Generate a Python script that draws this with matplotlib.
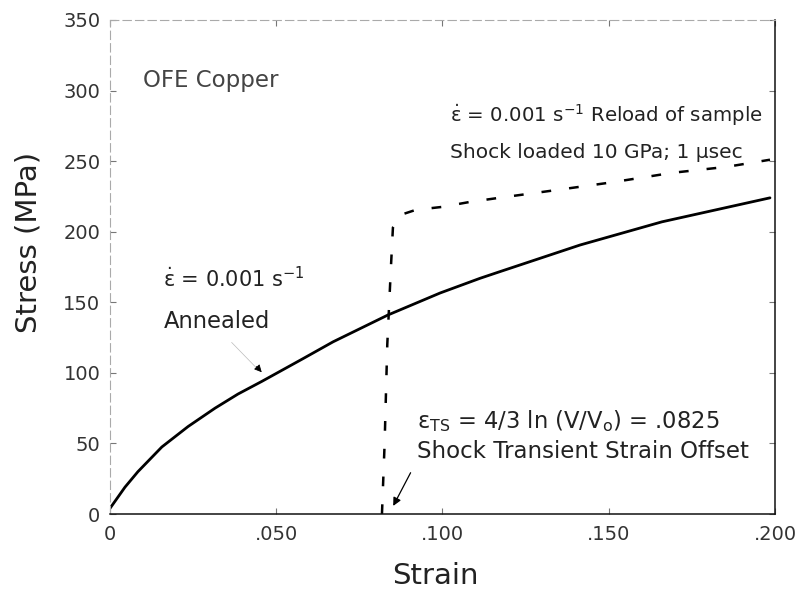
import matplotlib.pyplot as plt

plt.rcParams["font.family"] = ["DejaVu Sans"]
plt.rcParams["mathtext.fontset"] = "dejavusans"
plt.rcParams["lines.scale_dashes"] = False

# annealed OFE copper, strain rate 0.001 /s
annealed_strain = [0.0, 0.0045, 0.0084, 0.0156, 0.0235, 0.0316, 0.0385, 0.0457, 0.0580,
                   0.0671, 0.0836, 0.0993, 0.1113, 0.1170, 0.1414, 0.1660, 0.1985]
annealed_stress = [4, 19, 30, 47.5, 62, 75, 85, 94, 110,
                   122, 141, 156.6, 167, 171.5, 190.6, 207, 224]

# reload after shock loading (10 GPa, 1 usec), offset by transient strain
shocked_strain = [0.0818, 0.0826, 0.0834, 0.0845, 0.0851, 0.0875, 0.092, 0.100, 0.108,
                  0.117, 0.1345, 0.151, 0.169, 0.1856, 0.1985]
shocked_stress = [0, 50, 120, 175, 203, 212, 215.5, 217.6, 221,
                  224, 229.6, 235, 241.7, 246, 251]

x_ticks = [0, 0.05, 0.10, 0.15, 0.20]
x_tick_labels = ["0", ".050", ".100", ".150", ".200"]
y_ticks = [0, 50, 100, 150, 200, 250, 300, 350]

text_color = "#222222"

fig = plt.figure(figsize=(8.01, 5.95), dpi=100)
ax = fig.add_axes([0.1373, 0.1361, 0.8302, 0.8303])

ax.plot(annealed_strain, annealed_stress, color="black", lw=2.0, solid_capstyle="round")
ax.plot(shocked_strain, shocked_stress, color="black", lw=1.8, linestyle=(0, (7, 13)))

ax.set_xlim(0, 0.2)
ax.set_ylim(0, 350)
ax.set_xticks(x_ticks)
ax.set_xticklabels(x_tick_labels)
ax.set_yticks(y_ticks)
ax.tick_params(direction="in", length=4, width=0.8, colors="#777777", labelsize=14,
               labelcolor="#333333", top=True, right=True)
ax.tick_params(axis="x", pad=8)
ax.tick_params(axis="y", pad=7)

for side in ["left", "top"]:
    ax.spines[side].set_color("#aaaaaa")
    ax.spines[side].set_linewidth(0.8)
    ax.spines[side].set_linestyle((0, (6, 3)))
for side in ["right", "bottom"]:
    ax.spines[side].set_color("#111111")
    ax.spines[side].set_linewidth(1.1)

ax.set_xlabel("Strain", fontsize=21, color=text_color)
ax.xaxis.set_label_coords(0.489, -0.097)
ax.set_ylabel("Stress (MPa)", fontsize=21, color=text_color, va="center")
ax.yaxis.set_label_coords(-0.123, 0.549)

eps_dot = r"$\dot{\mathrm{\varepsilon}}$"

ax.text(0.0099, 302.6, "OFE Copper", fontsize=16.5, color="#444444", va="baseline")
ax.text(0.1023, 278, eps_dot + r" = 0.001 s$^{-1}$ Reload of sample",
        fontsize=14.2, color=text_color, va="baseline")
ax.text(0.1023, 252, "Shock loaded 10 GPa; 1 \u03bcsec",
        fontsize=14.5, color=text_color, va="baseline")
ax.text(0.016, 161, eps_dot + r" = 0.001 s$^{-1}$",
        fontsize=15, color=text_color, va="baseline")
ax.text(0.0162, 132, "Annealed", fontsize=16.3, color=text_color, va="baseline")
ax.text(0.0923, 61, r"$\mathrm{\varepsilon}_{\mathrm{TS}}$ = 4/3 ln (V/V$_\mathrm{o}$) = .0825",
        fontsize=16.3, color=text_color, va="baseline")
ax.text(0.0923, 39.7, "Shock Transient Strain Offset",
        fontsize=16.5, color=text_color, va="baseline")

# arrows
ax.annotate("", xy=(0.0455, 100), xytext=(0.036, 123),
            arrowprops=dict(arrowstyle="-", color="#bbbbbb", lw=0.5))
ax.annotate("", xy=(0.0462, 99), xytext=(0.0435, 106),
            arrowprops=dict(arrowstyle="-|>", color="black", lw=0.6, mutation_scale=11))
ax.annotate("", xy=(0.0848, 4), xytext=(0.0908, 31),
            arrowprops=dict(arrowstyle="-|>", color="black", lw=0.9, mutation_scale=12))

fig.savefig("out.png", dpi=100)
plt.close(fig)
